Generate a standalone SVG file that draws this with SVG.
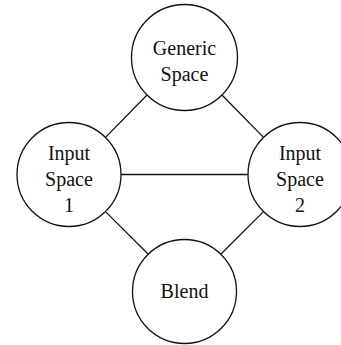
<svg xmlns="http://www.w3.org/2000/svg" width="341" height="345" viewBox="0 0 341 345">
  <style>
    .node circle { fill: #fff; stroke: #111; stroke-width: 1.3; }
    .node text { font-family: 'Liberation Serif', 'Times New Roman', serif; font-size: 20px; fill: #111; text-anchor: middle; }
    .edges line { stroke: #111; stroke-width: 1.3; }
  </style>
  <rect width="341" height="345" fill="#fff"/>
  <!-- straight links between the four spaces -->
  <g class="edges" id="connectors">
    <line x1="146.8" y1="95.3" x2="105.5" y2="137.4"/>
    <line x1="222.2" y1="95.3" x2="263.5" y2="137.4"/>
    <line x1="121" y1="174.5" x2="248" y2="174.5"/>
    <line x1="105.5" y1="211.6" x2="148" y2="254"/>
    <line x1="263.5" y1="211.6" x2="221" y2="254"/>
  </g>
  <g class="node" id="generic-space">
    <circle cx="184.5" cy="57.5" r="53"/>
    <text x="184.5" y="55">Generic</text>
    <text x="184.5" y="81">Space</text>
  </g>
  <g class="node" id="input-space-1">
    <circle cx="69" cy="174.5" r="52"/>
    <text x="69" y="160">Input</text>
    <text x="69" y="186">Space</text>
    <text x="69" y="212">1</text>
  </g>
  <g class="node" id="input-space-2">
    <circle cx="300" cy="174.5" r="52"/>
    <text x="300" y="160">Input</text>
    <text x="300" y="186">Space</text>
    <text x="300" y="212">2</text>
  </g>
  <g class="node" id="blend">
    <circle cx="184.5" cy="291.5" r="52"/>
    <text x="184.5" y="298">Blend</text>
  </g>
</svg>
